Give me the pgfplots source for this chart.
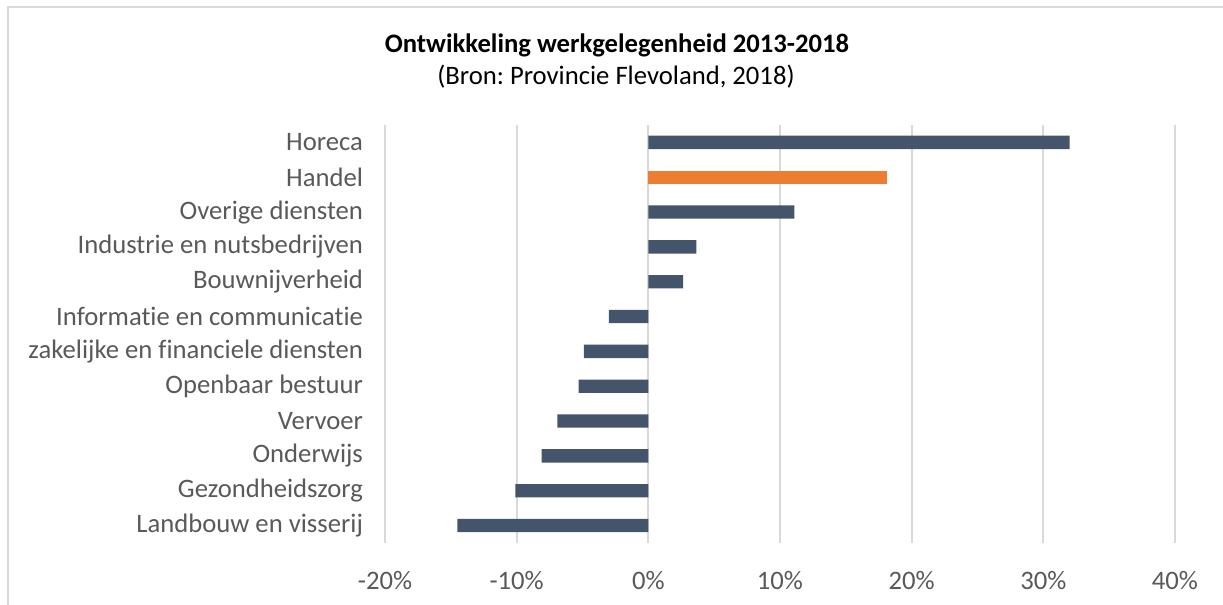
\documentclass[border=0pt]{standalone}
\usepackage{pgfplots}
\pgfplotsset{compat=1.18}
\usepackage{fontspec}
\setmainfont{Carlito}[Ligatures=NoCommon]
\frenchspacing
\definecolor{barblue}{HTML}{44546A}
\definecolor{barorange}{HTML}{ED7D31}
\definecolor{gridgray}{HTML}{D9D9D9}
\definecolor{txtgray}{HTML}{595959}
\begin{document}
\begin{tikzpicture}[x=0.75pt,y=0.75pt]
\useasboundingbox (0,0) rectangle (1223,605);
\draw[gridgray, line width=1.5pt] (7.5,-20) rectangle (1240,597.5);
\node[font=\fontsize{20}{24}\selectfont\bfseries, text=black] at (617,560) {Ontwikkeling werkgelegenheid 2013-2018};
\node[font=\fontsize{20}{24}\selectfont, text=black] at (616,528) {(Bron: Provincie Flevoland, 2018)};
\begin{axis}[
  at={(288.75pt,46.5pt)}, anchor=south west,
  scale only axis, width=592.5pt, height=313.5pt,
  xbar, bar width=10pt, bar shift=0pt,
  xmin=-20, xmax=40, ymin=-0.5, ymax=11.5,
  xtick={-20,-10,0,10,20,30,40},
  xticklabels={-20\%,-10\%,0\%,10\%,20\%,30\%,40\%},
  ytick={0,...,11},
  yticklabels={Landbouw en visserij,Gezondheidszorg,Onderwijs,Vervoer,Openbaar bestuur,zakelijke en financiele diensten,Informatie en communicatie,Bouwnijverheid,Industrie en nutsbedrijven,Overige diensten,Handel\ ,Horeca},
  major tick length=0pt,
  axis line style={draw=none},
  xmajorgrids, grid style={gridgray, line width=1.5pt},
  ticklabel style={font=\fontsize{20}{22}\selectfont, text=txtgray},
  yticklabel style={xshift=-13pt},
  xticklabel style={yshift=-18pt},
  clip=false,
]
\addplot[fill=barblue, draw=none] coordinates {
(-14.5,0) (-10.1,1) (-8.1,2) (-6.9,3) (-5.3,4) (-4.9,5) (-3.0,6) (2.65,7) (3.65,8) (11.1,9) (32.0,11)};
\addplot[fill=barorange, draw=none] coordinates {(18.1,10)};
\end{axis}
\end{tikzpicture}
\end{document}
